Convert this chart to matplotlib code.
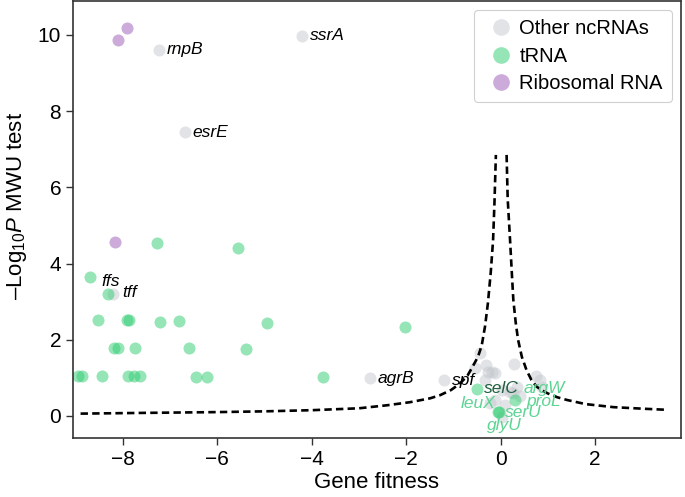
import matplotlib
matplotlib.use("Agg")
import matplotlib.pyplot as plt
from matplotlib.lines import Line2D

plt.rcParams['font.family'] = ['Liberation Sans', 'DejaVu Sans']
plt.rcParams['mathtext.fontset'] = 'custom'
plt.rcParams['mathtext.rm'] = 'Liberation Sans'
plt.rcParams['mathtext.it'] = 'Liberation Sans:italic'
plt.rcParams['axes.unicode_minus'] = True

# ---- data ----
other_x = [-7.24, -6.69, -4.20, -8.21, -2.77, -1.19,
           -0.44, -0.30, -0.26, -0.12, 0.29, -0.33, 0.02, -0.12, 0.09,
           0.27, 0.02, 0.76, 0.83, 0.87, -0.54, -0.19, -0.23, 0.34, 0.20, 0.41]
other_y = [9.61, 7.45, 9.98, 3.20, 0.99, 0.94,
           1.65, 1.34, 1.16, 1.12, 1.36, 0.94, 0.68, 0.42, 0.29,
           0.60, -0.02, 1.05, 0.94, 0.77, 1.25, 1.16, 0.33, 0.77, 0.64, 0.51]

trna_x = [-8.70, -8.31, -7.29, -5.56, -8.53, -7.92, -7.88, -7.22, -6.81, -4.96,
          -8.19, -8.10, -7.75, -6.60, -5.40, -8.95, -8.88, -8.44, -7.89, -7.77,
          -7.64, -6.45, -6.23, -3.76, -2.03, -0.51, 0.30, -0.06, -0.04]
trna_y = [3.64, 3.20, 4.53, 4.40, 2.52, 2.52, 2.52, 2.46, 2.50, 2.45,
          1.79, 1.79, 1.79, 1.78, 1.76, 1.05, 1.05, 1.05, 1.05, 1.05,
          1.05, 1.03, 1.02, 1.02, 2.34, 0.71, 0.42, 0.11, 0.10]

rrna_x = [-7.92, -8.10, -8.16]
rrna_y = [10.17, 9.86, 4.56]

# threshold curve points
curve_left_x = [-8.9, -7.5, -6.0, -5.0, -4.0, -3.0, -2.4, -1.92, -1.5, -1.29,
                -1.05, -0.86, -0.70, -0.59, -0.48, -0.40, -0.33, -0.27, -0.21,
                -0.16, -0.13, -0.10]
curve_left_y = [0.06, 0.08, 0.10, 0.12, 0.15, 0.20, 0.28, 0.36, 0.46, 0.54,
                0.68, 0.85, 1.06, 1.30, 1.55, 1.85, 2.35, 2.95, 3.75,
                4.60, 5.60, 6.85]
curve_right_x = [0.127, 0.15, 0.20, 0.24, 0.27, 0.32, 0.37, 0.45, 0.55, 0.65,
                 0.76, 0.88, 1.0, 1.2, 1.4, 1.8, 2.39, 3.0, 3.52]
curve_right_y = [6.85, 5.70, 4.62, 3.70, 3.04, 2.45, 2.00, 1.55, 1.20, 0.95,
                 0.77, 0.67, 0.59, 0.49, 0.42, 0.31, 0.23, 0.19, 0.16]

gene_names = ['rnpB', 'esrE', 'ssrA', 'ffs', 'tff', 'agrB', 'spf',
              'selC', 'argW', 'leuX', 'proL', 'serU', 'glyU']
gene_kind = ['other', 'other', 'other', 'other', 'other', 'other', 'other',
             'selc', 'trna', 'trna', 'trna', 'trna', 'trna']
# label anchor positions (left edge, vertical centre)
label_x = [-7.07, -6.52, -4.04, -8.45, -8.02, -2.60, -1.04,
           -0.35, 0.48, -0.85, 0.55, 0.09, -0.28]
label_y = [9.61, 7.45, 9.98, 3.54, 3.25, 0.99, 0.94,
           0.73, 0.73, 0.33, 0.39, 0.09, -0.24]

legend_labels = ['Other ncRNAs', 'tRNA', 'Ribosomal RNA']

# ---- styles ----
c_other = '#c4c8ce'
c_trna = '#2ecc71'
c_rrna = '#9b59b6'
txt_colors = {'other': 'black', 'trna': '#5dd493', 'selc': '#1f5f3f'}

fig = plt.figure(figsize=(6.85, 4.97), dpi=100)
ax = fig.add_axes([0.1066, 0.1187, 0.8874, 0.8793])

ms = 75
ax.scatter(other_x, other_y, s=ms, color=c_other, alpha=0.5, linewidths=0, zorder=2)
ax.scatter(trna_x, trna_y, s=ms, color=c_trna, alpha=0.5, linewidths=0, zorder=2)
ax.scatter(rrna_x, rrna_y, s=ms, color=c_rrna, alpha=0.5, linewidths=0, zorder=2)

for cx, cy in [(curve_left_x, curve_left_y), (curve_right_x, curve_right_y)]:
    ax.plot(cx, cy, color='black', lw=1.9, dashes=(2.8, 1.6), zorder=3)

for name, kind, tx, ty in zip(gene_names, gene_kind, label_x, label_y):
    ax.text(tx, ty, name, style='italic', fontsize=12.5, color=txt_colors[kind],
            ha='left', va='center', zorder=4)

handles = [Line2D([], [], marker='o', ls='none', markersize=12, alpha=0.5,
                  markerfacecolor=c, markeredgewidth=0) for c in (c_other, c_trna, c_rrna)]
leg = ax.legend(handles, legend_labels, loc='upper right', fontsize=14.5,
                frameon=True, fancybox=True, edgecolor='#d0d0d0', framealpha=1,
                handletextpad=0.05, labelspacing=0.42, borderpad=0.45,
                handlelength=1.75, borderaxespad=0.45)
leg.get_frame().set_linewidth(0.8)

ax.set_xlim(-9.06, 3.82)
ax.set_ylim(-0.58, 10.89)
ax.set_xticks([-8, -6, -4, -2, 0, 2])
ax.set_yticks([0, 2, 4, 6, 8, 10])
ax.tick_params(labelsize=15, length=5, width=1.0, color='#333333')
for sp in ax.spines.values():
    sp.set_color('#333333')
    sp.set_linewidth(1.2)

ax.set_xlabel('Gene fitness', fontsize=16, labelpad=2)
ax.set_ylabel('\u2013Log$_{10}$$\\mathit{P}$ MWU test', fontsize=16)
ax.yaxis.set_label_coords(-0.072, 0.53)

fig.savefig('out.png', dpi=100)
